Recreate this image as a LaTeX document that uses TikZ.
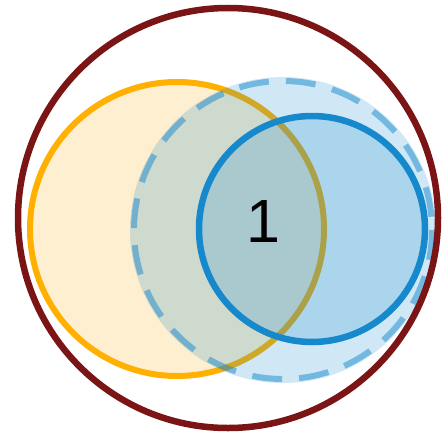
\documentclass[tikz,border=0pt]{standalone}
\usepackage{fontspec}
\newfontfamily\numfont{Liberation Sans}
\definecolor{darkred}{HTML}{7B1515}
\definecolor{orng}{HTML}{FFB000}
\definecolor{orngfill}{HTML}{FEEFD0}
\definecolor{blu}{HTML}{1688CC}
\tikzset{
  outerring/.style={draw=darkred, line width=6.5pt},
  orangeset/.style={draw=orng, fill=orngfill, line width=6pt},
  dashedfill/.style={fill=blu, fill opacity=0.2},
  dashedring/.style={draw=blu, draw opacity=0.5, line width=6pt, dash pattern=on 30pt off 17pt},
  blueset/.style={draw=blu, fill=blu, fill opacity=0.2, draw opacity=1, line width=6.5pt},
  numlabel/.style={font=\numfont\fontsize{61}{61}\selectfont, inner sep=0pt}
}
\begin{document}
\begin{tikzpicture}[x=1pt,y=-1pt]
\useasboundingbox (0,0) rectangle (443,436);
\path[orangeset] (177,229) circle (147);
\path[dashedfill] (283,230) circle (153);
\path[dashedring] (283,230) circle (149);
\path[blueset] (312,229) circle (113);
\path[outerring] (228,218) circle (210);
\node[numlabel] (one) at (263,222) {1};
\end{tikzpicture}
\end{document}
